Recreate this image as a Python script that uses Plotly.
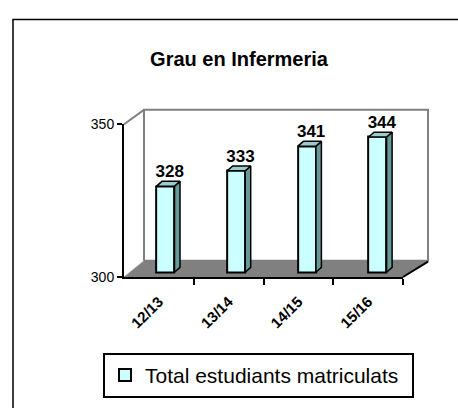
import plotly.graph_objects as go

# ---- data ----
categories = ["12/13", "13/14", "14/15", "15/16"]
students = [328, 333, 341, 344]
y_ticks = [300, 350]
title_text = "Grau en Infermeria"
series_name = "Total estudiants matriculats"

# ---- geometry helpers (pixel -> paper) ----
W, H = 458, 408
def px(x):
    return x / W
def py(y):
    return 1 - y / H

BASE = 300
TOP = 350
idx = list(range(len(categories)))

# bar plane: 70.7 px per category, 3.2 px per unit
PX_CAT = 70.7
PX_UNIT = 3.2
hw = 0.255 / 2            # half bar width (category units)
dxu = 5.5 / PX_CAT        # depth offset x
dyu = 5.0 / PX_UNIT       # depth offset y
pad_u = 3 / PX_UNIT

FRONT = "#CCFFFF"
TOPC = "#99CCCC"
SIDE = "#669999"
FONT = "Arial"

fig = go.Figure()

# bars (front faces)
fig.add_trace(go.Bar(
    x=idx, y=[v - BASE for v in students], base=BASE,
    width=0.255, name=series_name,
    marker=dict(color=FRONT, line=dict(color="black", width=2)),
    xaxis="x2", yaxis="y2", showlegend=True,
    customdata=students, hovertemplate="%{customdata}<extra></extra>",
))

# side faces
sx, sy = [], []
for i, v in zip(idx, students):
    sx += [i + hw, i + hw + dxu, i + hw + dxu, i + hw, i + hw, None]
    sy += [BASE, BASE + dyu, v + dyu, v, BASE, None]
fig.add_trace(go.Scatter(
    x=sx, y=sy, mode="lines", fill="toself", fillcolor=SIDE,
    line=dict(color="black", width=1.5), xaxis="x2", yaxis="y2",
    showlegend=False, hoverinfo="skip",
))

# top faces
tx, ty = [], []
for i, v in zip(idx, students):
    tx += [i - hw, i + hw, i + hw + dxu, i - hw + dxu, i - hw, None]
    ty += [v, v, v + dyu, v + dyu, v, None]
fig.add_trace(go.Scatter(
    x=tx, y=ty, mode="lines", fill="toself", fillcolor=TOPC,
    line=dict(color="black", width=1.5), xaxis="x2", yaxis="y2",
    showlegend=False, hoverinfo="skip",
))

# value labels
fig.add_trace(go.Scatter(
    x=[i + 0.06 for i in idx], y=[v + dyu for v in students],
    mode="text", text=[str(v) for v in students], textposition="top center",
    textfont=dict(family=FONT, size=17, color="black", weight="bold"),
    xaxis="x2", yaxis="y2", showlegend=False, hoverinfo="skip", cliponaxis=False,
))

# invisible trace so the front axes are drawn
fig.add_trace(go.Scatter(
    x=idx, y=[None] * len(idx), mode="markers", xaxis="x", yaxis="y",
    showlegend=False, hoverinfo="skip",
))

shapes = []
# outer frame
shapes.append(dict(type="rect", xref="paper", yref="paper",
                   x0=px(13), y0=py(12), x1=px(475), y1=py(425),
                   line=dict(color="black", width=1.5), layer="below"))

def path(points):
    return "M " + " L ".join(f"{px(a):.5f},{py(b):.5f}" for a, b in points) + " Z"

# left side wall
shapes.append(dict(type="path", xref="paper", yref="paper",
                   path=path([(124, 121), (144, 106), (144, 263), (124, 280)]),
                   fillcolor="white", line=dict(width=0), layer="below"))
# back wall
shapes.append(dict(type="rect", xref="paper", yref="paper",
                   x0=px(144), y0=py(263), x1=px(428), y1=py(106),
                   fillcolor="white", line=dict(color="#808080", width=2), layer="below"))
# top-left diagonal
shapes.append(dict(type="line", xref="paper", yref="paper",
                   x0=px(124), y0=py(121), x1=px(144), y1=py(106),
                   line=dict(color="#808080", width=2), layer="below"))
# floor
shapes.append(dict(type="path", xref="paper", yref="paper",
                   path=path([(124, 280), (144, 263), (428, 263), (403, 280)]),
                   fillcolor="#808080", line=dict(width=0), layer="below"))
shapes.append(dict(type="line", xref="paper", yref="paper",
                   x0=px(124), y0=py(280), x1=px(144), y1=py(263),
                   line=dict(color="#A8A8A8", width=1), layer="below"))
shapes.append(dict(type="line", xref="paper", yref="paper",
                   x0=px(403), y0=py(280), x1=px(428), y1=py(264),
                   line=dict(color="black", width=2), layer="below"))

fig.update_layout(
    width=W, height=H,
    margin=dict(l=0, r=0, t=0, b=0),
    paper_bgcolor="white", plot_bgcolor="rgba(0,0,0,0)",
    font=dict(family=FONT, color="black"),
    title=dict(text=title_text, x=px(239), y=py(53), xanchor="center", yanchor="middle",
               xref="paper", yref="paper",
               font=dict(family=FONT, size=20, color="black", weight="bold")),
    xaxis=dict(domain=[px(124), px(403)], range=[-0.5, len(categories) - 0.5],
               tickmode="array", tickvals=idx, ticktext=categories,
               ticks="", tickangle=-45, showline=True, linecolor="black", linewidth=2,
               ticklabelstandoff=8,
               tickfont=dict(family=FONT, size=15, color="black", weight="bold"),
               minor=dict(tickmode="array", tickvals=[i + 0.5 for i in idx],
                          ticks="outside", ticklen=6, tickwidth=2, tickcolor="black"),
               showgrid=False, zeroline=False, fixedrange=True, anchor="y"),
    yaxis=dict(domain=[py(280), py(121)], range=[BASE, TOP],
               tickmode="array", tickvals=y_ticks, ticks="outside", ticklen=5,
               tickwidth=2, tickcolor="black", showline=True, linecolor="black",
               linewidth=2, tickfont=dict(family=FONT, size=14, color="black"),
               showgrid=False, zeroline=False, fixedrange=True, anchor="x"),
    xaxis2=dict(domain=[px(130.15), px(130.15 + PX_CAT * len(categories))],
                range=[-0.5, len(categories) - 0.5], visible=False,
                anchor="y2", fixedrange=True),
    yaxis2=dict(domain=[py(278), py(115)], range=[BASE - pad_u, TOP], visible=False,
                anchor="x2", fixedrange=True),
    showlegend=True,
    legend=dict(x=px(103), y=py(359), xanchor="left", yanchor="top",
                orientation="h", bgcolor="white", bordercolor="black", borderwidth=2,
                entrywidth=262,
                font=dict(family=FONT, size=21, color="black")),
    shapes=shapes,
    bargap=0,
)

fig.write_html("out.html", post_script="document.body.style.margin='0';",
               config={"displayModeBar": False})
